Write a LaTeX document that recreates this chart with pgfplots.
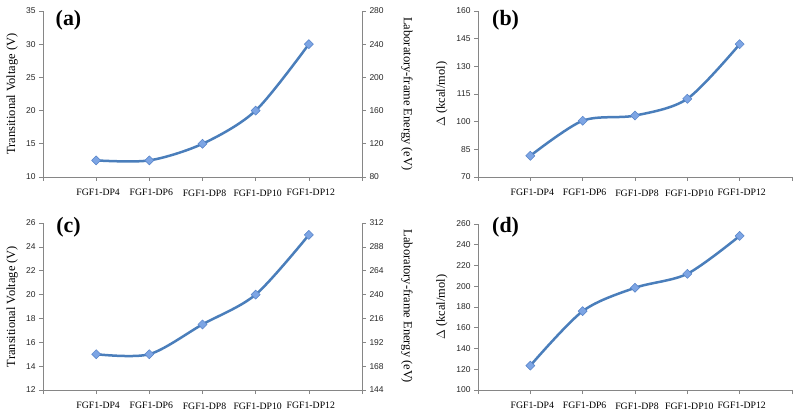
\documentclass[border=0pt]{standalone}
\usepackage{fontspec}
\setmainfont{Liberation Serif}
\newfontfamily\arial{Liberation Sans}
\usepackage{pgfplots}
\pgfplotsset{compat=1.18}
\definecolor{lineblue}{RGB}{74,126,187}
\definecolor{markfill}{RGB}{125,165,228}
\definecolor{markdraw}{RGB}{85,130,200}
\definecolor{axgray}{RGB}{134,134,134}
\tikzset{plab/.style={font=\bfseries\fontsize{22}{22}\selectfont}}
\pgfplotsset{
  panel/.style={
    scale only axis, anchor=south west,
    xmin=0, xmax=6, xtick={0,1,2,3,4,5,6},
    xticklabels={,FGF1-DP4,FGF1-DP6,FGF1-DP8,FGF1-DP10,FGF1-DP12,},
    axis x line*=bottom, axis y line*=left,
    axis line style={axgray, line width=0.6bp, -},
    tick align=outside, major tick length=4bp,
    tick style={axgray, line width=0.6bp},
    xticklabel style={font=\fontsize{9.8}{10}\selectfont, yshift=-5bp, xshift=2bp},
    yticklabel style={font=\arial\fontsize{8.5}{9}\selectfont, text=black!85},
    /pgf/number format/assume math mode=true,
    ylabel style={font=\fontsize{12.5}{13}\selectfont},
    clip=false,
  },
  rightax/.style={
    scale only axis, anchor=south west,
    xmin=0, xmax=6, axis x line=none, axis y line*=right,
    axis line style={axgray, line width=0.6bp, -},
    tick align=outside, major tick length=4bp,
    tick style={axgray, line width=0.6bp},
    yticklabel style={font=\arial\fontsize{8.5}{9}\selectfont, text=black!85},
    /pgf/number format/assume math mode=true,
    ylabel style={font=\fontsize{12.5}{13}\selectfont, at={(axis description cs:1.141,0.5)}, anchor=center, rotate=-180},
  },
  curve/.style={lineblue, line width=2.5bp, smooth, mark=square*, mark size=3.2bp,
    mark options={rotate=45, fill=markfill, draw=markdraw, line width=0.5bp}},
}
\begin{document}
\begin{tikzpicture}
\path[use as bounding box] (0,0) rectangle (800bp,419bp);
% (a)
\begin{axis}[panel, at={(43bp,242bp)}, width=319bp, height=166bp,
  ymin=10, ymax=35, ytick={10,15,20,25,30,35},
  ylabel={Transitional Voltage (V)},
  ylabel style={at={(axis description cs:-0.097,0.5)}, anchor=center}]
\addplot[curve] coordinates {(1,12.5) (2,12.5) (3,15) (4,20) (5,30)};
\node[plab] at (axis description cs:0.08,0.944) {(a)};
\end{axis}
\begin{axis}[rightax, at={(43bp,242bp)}, width=319bp, height=166bp,
  ymin=80, ymax=280, ytick={80,120,160,200,240,280},
  ylabel={Laboratory-frame Energy (eV)}]
\end{axis}
% (b)
\begin{axis}[panel, at={(478bp,242bp)}, width=314bp, height=166bp,
  ymin=70, ymax=160, ytick={70,85,100,115,130,145,160},
  ylabel={$\Delta$ (kcal/mol)},
  ylabel style={at={(axis description cs:-0.115,0.5)}, anchor=center}]
\addplot[curve] coordinates {(1,81.5) (2,100.5) (3,103.3) (4,112.4) (5,142)};
\node[plab] at (axis description cs:0.088,0.944) {(b)};
\end{axis}
% (c)
\begin{axis}[panel, at={(43bp,29bp)}, width=319bp, height=167bp,
  ymin=12, ymax=26, ytick={12,14,16,18,20,22,24,26},
  ylabel={Transitional Voltage (V)},
  ylabel style={at={(axis description cs:-0.097,0.5)}, anchor=center}]
\addplot[curve] coordinates {(1,15) (2,15) (3,17.5) (4,20) (5,25)};
\node[plab] at (axis description cs:0.08,0.973) {(c)};
\end{axis}
\begin{axis}[rightax, at={(43bp,29bp)}, width=319bp, height=167bp,
  ymin=144, ymax=312, ytick={144,168,192,216,240,264,288,312},
  ylabel={Laboratory-frame Energy (eV)}]
\end{axis}
% (d)
\begin{axis}[panel, at={(478bp,29bp)}, width=314bp, height=166bp,
  ymin=100, ymax=260, ytick={100,120,140,160,180,200,220,240,260},
  ylabel={$\Delta$ (kcal/mol)},
  ylabel style={at={(axis description cs:-0.115,0.5)}, anchor=center}]
\addplot[curve] coordinates {(1,123.5) (2,176) (3,198.5) (4,212) (5,248.5)};
\node[plab] at (axis description cs:0.088,0.979) {(d)};
\end{axis}
\end{tikzpicture}
\end{document}
